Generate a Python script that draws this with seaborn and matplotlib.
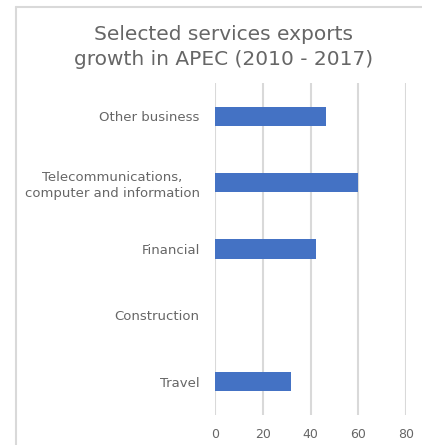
import matplotlib
matplotlib.use("Agg")
import matplotlib.pyplot as plt
from matplotlib.lines import Line2D
import seaborn as sns
import pandas as pd

# Services export growth by sector, APEC 2010-2017 (%)
categories = [
    "Other business",
    "Telecommunications,\ncomputer and information",
    "Financial",
    "Construction",
    "Travel",
]
growth = [46.3, 59.8, 42.3, 0.0, 32.0]
x_ticks = [0, 20, 40, 60, 80]

df = pd.DataFrame({"sector": categories, "growth": growth})

sns.set_theme(style="white")
plt.rcParams["font.family"] = ["DejaVu Sans"]

text_color = "#666666"
grid_color = "#d9d9d9"
bar_color = "#4472C4"

fig = plt.figure(figsize=(4.22, 4.45), dpi=100)
ax = fig.add_axes([215 / 422, 1 - 415 / 445, 191 / 422, 332 / 445])

sns.barplot(data=df, x="growth", y="sector", order=categories, color=bar_color,
            width=0.29, saturation=1, linewidth=0, ax=ax)

ax.set_xlim(0, 80)
ax.set_ylim(4.5, -0.5)
ax.set_xticks(x_ticks)
ax.set_xticklabels([str(v) for v in x_ticks])
ax.xaxis.grid(True, color=grid_color, linewidth=1.5)
ax.set_axisbelow(True)
for side in ax.spines.values():
    side.set_visible(False)
ax.set_xlabel("")
ax.set_ylabel("")
ax.tick_params(axis="x", length=0, pad=9, labelsize=9, labelcolor=text_color)
ax.tick_params(axis="y", length=0, pad=11, labelsize=9.5, labelcolor=text_color)
for lbl in ax.get_yticklabels():
    lbl.set_multialignment("center")
    lbl.set_linespacing(1.3)

fig.text(0.53, 1 - 47 / 445, "Selected services exports\ngrowth in APEC (2010 - 2017)",
         ha="center", va="center", fontsize=14.5, color=text_color, linespacing=1.45)

# chart frame
fig.add_artist(Line2D([16 / 422, 16 / 422], [0, 1 - 7 / 445], transform=fig.transFigure,
                      color=grid_color, linewidth=1.5))
fig.add_artist(Line2D([16 / 422, 1], [1 - 7 / 445, 1 - 7 / 445], transform=fig.transFigure,
                      color=grid_color, linewidth=1.5))

fig.savefig("out.png", dpi=100)
